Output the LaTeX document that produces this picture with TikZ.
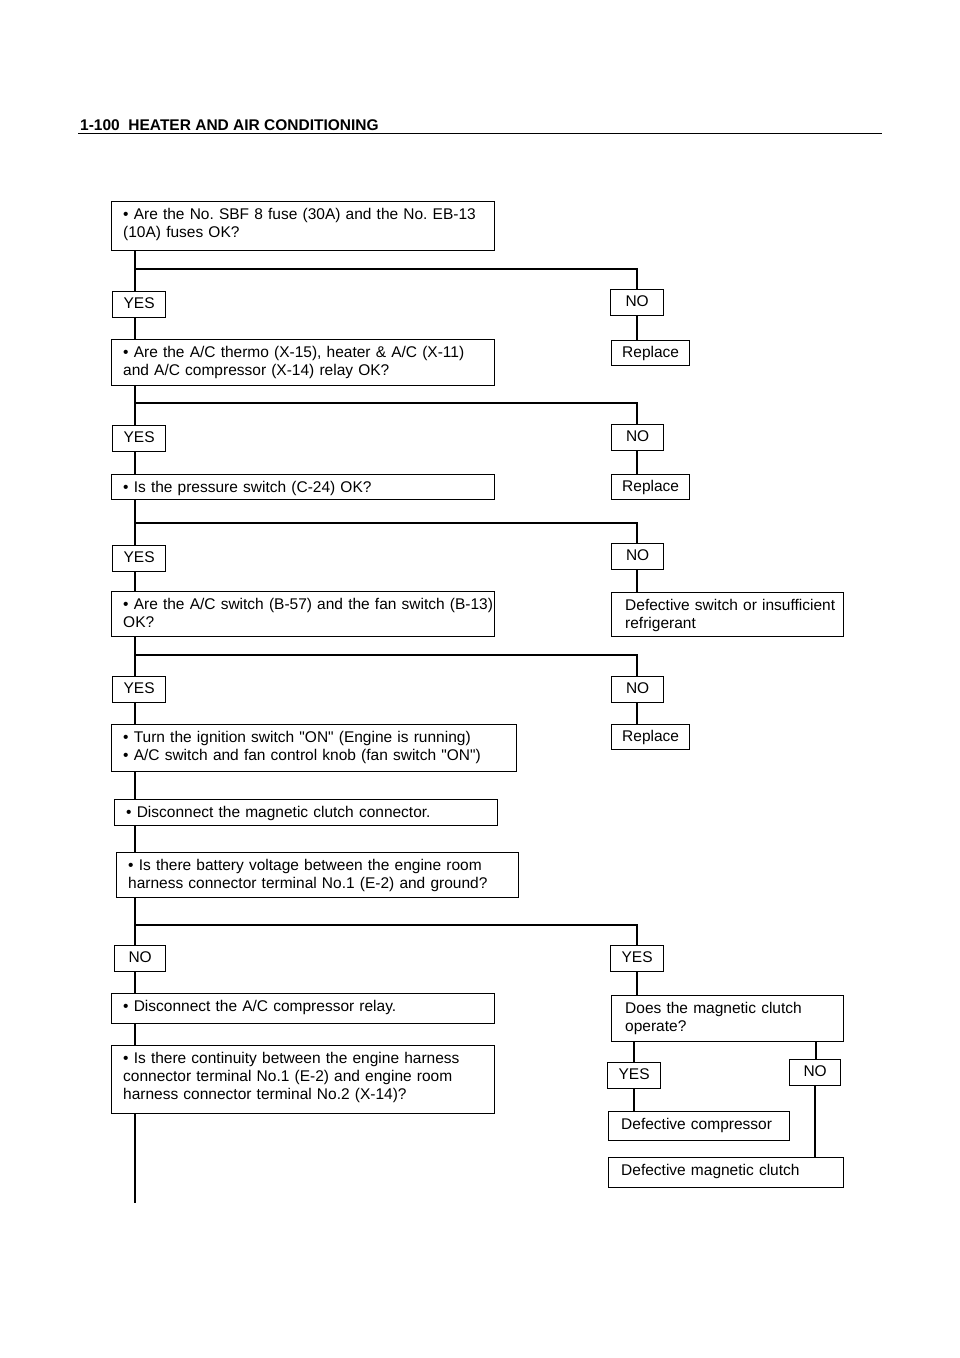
\documentclass[tikz,border=0pt]{standalone}
\usepackage{fontspec}
\setmainfont{Liberation Sans}[Ligatures=TeXOff]
\frenchspacing
\newcommand\ff{\fontsize{15.5}{18}\selectfont}
\tikzset{
  box/.style={draw, line width=1.3pt, inner sep=0pt, anchor=north west},
  tag/.style={box, font=\ff, text height=11pt, text depth=3pt},
  txt/.style={anchor=north west, xshift=12pt, yshift=-5.5pt, inner sep=0pt,
    align=left, text width=420pt, font=\ff},
  link/.style={line width=1.2pt},
}
\begin{document}
\begin{tikzpicture}[x=1pt,y=-1pt]
\useasboundingbox (0,0) rectangle (960,1358);
% header
\node[anchor=base west, inner sep=0pt, font=\ff\bfseries] (hdr) at (80,130.5) {1-100\ \ HEATER AND AIR CONDITIONING};
\coordinate (hl) at (78,133.5);
\coordinate (hr) at (882,133.5);
\draw[line width=1pt] (hl) -- (hr);

% trunk x positions
\coordinate (L) at (135,0);
\coordinate (R) at (637,0);

% boxes
\node[box, minimum width=383pt, minimum height=49pt] (b1) at (111,201) {};
\node[txt] (b1t) at (b1.north west) {\strut• Are the No. SBF 8 fuse (30A) and the No. EB-13\\(10A) fuses OK?};
\node[tag, minimum width=53pt, minimum height=26pt] (y1) at (112,291) {YES};
\node[tag, minimum width=53pt, minimum height=26pt] (n1) at (610,289) {NO};
\node[box, minimum width=383pt, minimum height=46pt] (b2) at (111,339) {};
\node[txt] (b2t) at (b2.north west) {\strut• Are the A/C thermo (X-15), heater \& A/C (X-11)\\and A/C compressor (X-14) relay OK?};
\node[tag, minimum width=78pt, minimum height=25pt] (r1) at (611,340) {Replace};

\node[tag, minimum width=53pt, minimum height=26pt] (y2) at (112,425) {YES};
\node[tag, minimum width=52pt, minimum height=26pt] (n2) at (611,424) {NO};
\node[box, minimum width=383pt, minimum height=25pt] (b3) at (111,474) {};
\node[txt] (b3t) at (b3.north west) {\strut• Is the pressure switch (C-24) OK?};
\node[tag, minimum width=78pt, minimum height=25pt] (r2) at (611,474) {Replace};

\node[tag, minimum width=53pt, minimum height=26pt] (y3) at (112,545) {YES};
\node[tag, minimum width=52pt, minimum height=26pt] (n3) at (611,543) {NO};
\node[box, minimum width=383pt, minimum height=45pt] (b4) at (111,591) {};
\node[txt] (b4t) at (b4.north west) {\strut• Are the A/C switch (B-57) and the fan switch (B-13)\\OK?};
\node[box, minimum width=232pt, minimum height=44pt] (d1) at (611,592) {};
\node[txt, xshift=2pt] (d1t) at (d1.north west) {\strut Defective switch or insufficient\\refrigerant};

\node[tag, minimum width=53pt, minimum height=26pt] (y4) at (112,676) {YES};
\node[tag, minimum width=52pt, minimum height=26pt] (n4) at (611,676) {NO};
\node[box, minimum width=405pt, minimum height=47pt] (b5) at (111,724) {};
\node[txt] (b5t) at (b5.north west) {\strut• Turn the ignition switch "ON" (Engine is running)\\• A/C switch and fan control knob (fan switch "ON")};
\node[tag, minimum width=78pt, minimum height=25pt] (r3) at (611,724) {Replace};

\node[box, minimum width=383pt, minimum height=26pt] (b6) at (114,799) {};
\node[txt] (b6t) at (b6.north west) {\strut• Disconnect the magnetic clutch connector.};
\node[box, minimum width=402pt, minimum height=45pt] (b7) at (116,852) {};
\node[txt] (b7t) at (b7.north west) {\strut• Is there battery voltage between the engine room\\harness connector terminal No.1 (E-2) and ground?};

\node[tag, minimum width=51pt, minimum height=26pt] (n5) at (114,945) {NO};
\node[tag, minimum width=53pt, minimum height=26pt] (y5) at (610,945) {YES};
\node[box, minimum width=383pt, minimum height=30pt] (b8) at (111,993) {};
\node[txt] (b8t) at (b8.north west) {\strut• Disconnect the A/C compressor relay.};
\node[box, minimum width=383pt, minimum height=68pt] (b10) at (111,1045) {};
\node[txt] (b10t) at (b10.north west) {\strut• Is there continuity between the engine harness\\connector terminal No.1 (E-2) and engine room\\harness connector terminal No.2 (X-14)?};

\node[box, minimum width=232pt, minimum height=46pt] (b9) at (611,995) {};
\node[txt, xshift=2pt] (b9t) at (b9.north west) {\strut Does the magnetic clutch\\operate?};
\node[tag, minimum width=53pt, minimum height=26pt] (y6) at (607,1062) {YES};
\node[tag, minimum width=51pt, minimum height=26pt] (n6) at (789,1059) {NO};
\node[box, minimum width=181pt, minimum height=29pt] (dc) at (608,1111) {};
\node[txt, xshift=1pt] (dct) at (dc.north west) {\strut Defective compressor};
\node[box, minimum width=235pt, minimum height=30pt] (dm) at (608,1157) {};
\node[txt, xshift=1pt] (dmt) at (dm.north west) {\strut Defective magnetic clutch};

% junction coordinates
\coordinate (j1) at (135,269);
\coordinate (j2) at (135,403);
\coordinate (j3) at (135,523);
\coordinate (j4) at (135,655);
\coordinate (j5) at (135,925);
\coordinate (endL) at (135,1203);
\coordinate (Y6) at (634,0);
\coordinate (N6) at (816,0);
\coordinate (N6b) at (815,0);

% connectors
\draw[link] (b1.south -| L) -- (y1.north -| L);
\draw[link] (j1) -| (n1.north -| R);
\draw[link] (y1.south -| L) -- (b2.north -| L);
\draw[link] (n1.south -| R) -- (r1.north -| R);

\draw[link] (b2.south -| L) -- (y2.north -| L);
\draw[link] (j2) -| (n2.north -| R);
\draw[link] (y2.south -| L) -- (b3.north -| L);
\draw[link] (n2.south -| R) -- (r2.north -| R);

\draw[link] (b3.south -| L) -- (y3.north -| L);
\draw[link] (j3) -| (n3.north -| R);
\draw[link] (y3.south -| L) -- (b4.north -| L);
\draw[link] (n3.south -| R) -- (d1.north -| R);

\draw[link] (b4.south -| L) -- (y4.north -| L);
\draw[link] (j4) -| (n4.north -| R);
\draw[link] (y4.south -| L) -- (b5.north -| L);
\draw[link] (n4.south -| R) -- (r3.north -| R);

\draw[link] (b5.south -| L) -- (b6.north -| L);
\draw[link] (b6.south -| L) -- (b7.north -| L);
\draw[link] (b7.south -| L) -- (n5.north -| L);
\draw[link] (j5) -| (y5.north -| R);
\draw[link] (n5.south -| L) -- (b8.north -| L);
\draw[link] (y5.south -| R) -- (b9.north -| R);
\draw[link] (b8.south -| L) -- (b10.north -| L);
\draw[link] (b10.south -| L) -- (endL);

\draw[link] (b9.south -| Y6) -- (y6.north -| Y6);
\draw[link] (b9.south -| N6) -- (n6.north -| N6);
\draw[link] (y6.south -| Y6) -- (dc.north -| Y6);
\draw[link] (n6.south -| N6b) -- (dm.north -| N6b);
\end{tikzpicture}
\end{document}
